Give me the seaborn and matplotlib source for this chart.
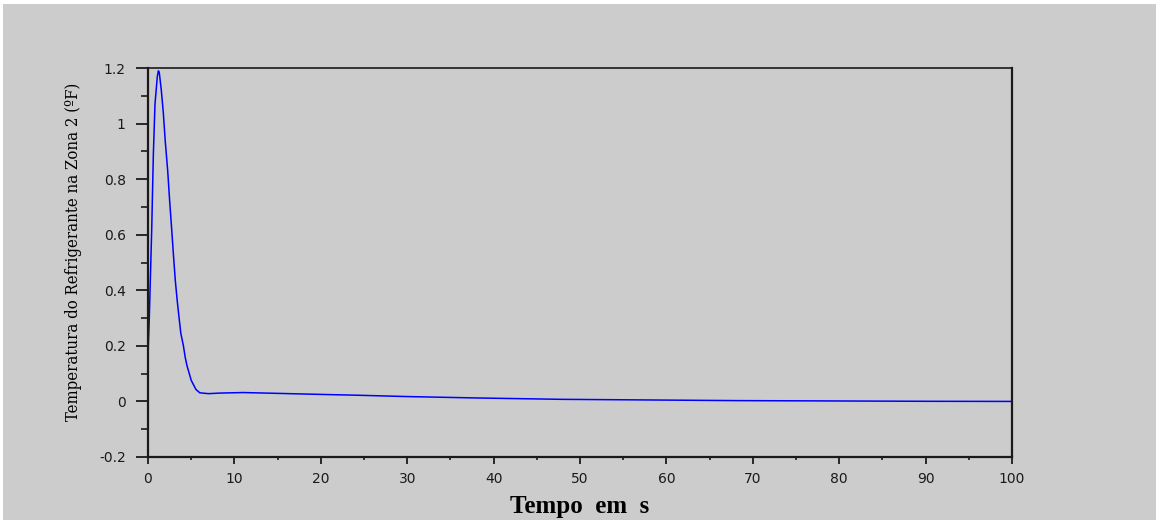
import numpy as np
import pandas as pd
import matplotlib
matplotlib.use("Agg")
import matplotlib.pyplot as plt
from matplotlib import font_manager
from matplotlib.patches import Rectangle
from matplotlib.ticker import MultipleLocator
import seaborn as sns

# Refrigerant temperature response in zone 2
tempo = [0.0, 0.15, 0.43, 0.62, 0.81, 1.08, 1.2, 1.3, 1.54, 1.77, 2.0, 2.28, 2.51,
         2.74, 2.95, 3.16, 3.39, 3.6, 3.8, 4.1, 4.3, 4.5, 4.78, 5.0, 5.3, 5.55,
         6.0, 7.0, 8.3, 11.0, 15.0, 19.0, 24.0, 30.0, 38.0, 48.0, 68.0, 90.0, 100.0]
temperatura = [0.165, 0.30, 0.62, 0.89, 1.07, 1.17, 1.19, 1.185, 1.12, 1.04, 0.935,
               0.83, 0.72, 0.62, 0.525, 0.435, 0.36, 0.30, 0.245, 0.20, 0.16, 0.13,
               0.10, 0.076, 0.058, 0.043, 0.031, 0.028, 0.030, 0.032, 0.029, 0.026,
               0.0225, 0.0175, 0.0125, 0.0075, 0.003, 0.0005, 0.0]

x_ticks = [0, 10, 20, 30, 40, 50, 60, 70, 80, 90, 100]
y_ticks = [-0.2, 0, 0.2, 0.4, 0.6, 0.8, 1, 1.2]
y_tick_labels = ["-0.2", "0", "0.2", "0.4", "0.6", "0.8", "1", "1.2"]

df = pd.DataFrame({"tempo": tempo, "temperatura": temperatura})

sns.set_theme(style="ticks")
bg = "#cccccc"

# Prefer a condensed serif face for the vertical axis title when one is installed
ylabel_prop = font_manager.FontProperties(family="Liberation Serif", size=13.5)
for f in font_manager.fontManager.ttflist:
    if "Serif" in f.name and "Condensed" in (f.name + " " + str(f.stretch)).title() \
            and f.weight in (400, "normal", "regular") and f.style == "normal":
        ylabel_prop = font_manager.FontProperties(fname=f.fname, size=12)
        break

fig = plt.figure(figsize=(11.56, 5.2), dpi=100)
fig.patch.set_facecolor("white")
fig.patches.append(Rectangle((3 / 1156, 0), 1, 1 - 4 / 520, transform=fig.transFigure,
                             facecolor=bg, edgecolor="none", zorder=-10))

ax = fig.add_axes([148 / 1156, 1 - 457 / 520, (1012 - 148) / 1156, (457 - 68) / 520])
ax.set_facecolor(bg)

sns.lineplot(data=df, x="tempo", y="temperatura", ax=ax, color="#0000ff",
             linewidth=1.1, estimator=None, sort=False)

ax.set_xlim(0, 100)
ax.set_ylim(-0.2, 1.2)
ax.set_xticks(x_ticks)
ax.set_xticklabels([str(v) for v in x_ticks])
ax.set_yticks(y_ticks)
ax.set_yticklabels(y_tick_labels)
ax.xaxis.set_minor_locator(MultipleLocator(5))
ax.yaxis.set_minor_locator(MultipleLocator(0.1))

for side in ["left", "bottom", "top", "right"]:
    ax.spines[side].set_visible(True)
    ax.spines[side].set_color("#1a1a1a")
ax.spines["left"].set_linewidth(1.6)
ax.spines["bottom"].set_linewidth(1.6)
ax.spines["top"].set_linewidth(1.2)
ax.spines["right"].set_linewidth(1.6)

ax.tick_params(which="both", color="#1a1a1a", direction="out")
ax.tick_params(axis="x", which="major", length=5, width=1.3, labelsize=10,
               labelcolor="#1a1a1a", pad=6)
ax.tick_params(axis="x", which="minor", length=2.5, width=1.2)
ax.tick_params(axis="y", which="major", length=9, width=1.3, labelsize=10,
               labelcolor="#1a1a1a", pad=7)
ax.tick_params(axis="y", which="minor", length=5, width=1.2)
ax.tick_params(top=False, right=False, which="both")
for lab in ax.get_xticklabels() + ax.get_yticklabels():
    lab.set_family("DejaVu Sans")

ax.set_xlabel("Tempo  em  s", family="Liberation Serif", fontweight="bold",
              fontsize=18, color="black", labelpad=6)
ax.set_ylabel("Temperatura do Refrigerante na Zona 2 (ºF)", fontproperties=ylabel_prop,
              color="black")
ax.yaxis.set_label_coords(-(148 - 82) / (1012 - 148), 0.528)
ax.grid(False)

fig.savefig("out.png", dpi=100, facecolor=fig.get_facecolor())
